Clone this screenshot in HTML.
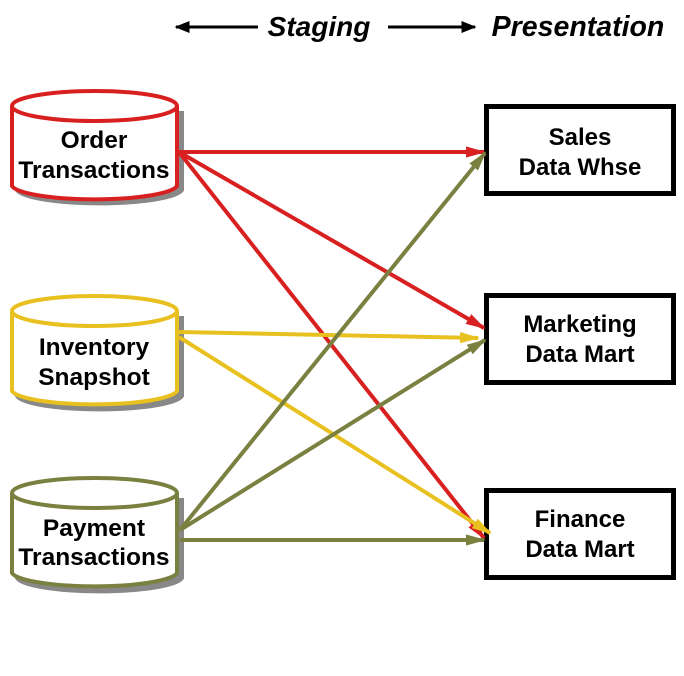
<!DOCTYPE html>
<html><head><style>body{margin:0;background:#fff}</style></head><body>
<svg width="684" height="671" xmlns="http://www.w3.org/2000/svg" font-family="Liberation Sans, sans-serif" font-weight="bold">
<defs>
<marker id="r" markerWidth="5" markerHeight="2.8" refX="4.5" refY="1.4" orient="auto" markerUnits="strokeWidth"><path d="M0,0L5,1.4L0,2.8z" fill="#d92020"/></marker>
<marker id="y" markerWidth="5" markerHeight="2.8" refX="4.5" refY="1.4" orient="auto" markerUnits="strokeWidth"><path d="M0,0L5,1.4L0,2.8z" fill="#e8c020"/></marker>
<marker id="g" markerWidth="5" markerHeight="2.8" refX="4.5" refY="1.4" orient="auto" markerUnits="strokeWidth"><path d="M0,0L5,1.4L0,2.8z" fill="#7a8040"/></marker>
<marker id="k" markerWidth="5" markerHeight="4" refX="4.5" refY="2" orient="auto" markerUnits="strokeWidth"><path d="M0,0L5,2L0,4z" fill="#000"/></marker>
</defs>
<line x1="258" y1="27" x2="176" y2="27" stroke="#000" stroke-width="3" marker-end="url(#k)"/>
<line x1="388" y1="27" x2="475" y2="27" stroke="#000" stroke-width="3" marker-end="url(#k)"/>
<text x="319" y="36" font-size="28" font-style="italic" text-anchor="middle">Staging</text>
<text x="578" y="36" font-size="28.5" font-style="italic" text-anchor="middle">Presentation</text>

<g>
<path d="M17,111 V190 A83,15 0 0 0 182,190 V111" fill="#888" stroke="#888" stroke-width="4"/>
<path d="M12,106 V186 A83,15 0 0 0 177,186 V106" fill="#fff" stroke="#d92020" stroke-width="4"/>
<ellipse cx="94.5" cy="106" rx="82.5" ry="15" fill="#fff" stroke="#d92020" stroke-width="4"/>
<text x="94" y="148" font-size="24.5" text-anchor="middle">Order</text>
<text x="94" y="178" font-size="24.5" text-anchor="middle">Transactions</text>
</g>
<g>
<path d="M17,316 V396 A83,15 0 0 0 182,396 V316" fill="#888" stroke="#888" stroke-width="4"/>
<path d="M12,311 V391 A83,15 0 0 0 177,391 V311" fill="#fff" stroke="#e8c020" stroke-width="4"/>
<ellipse cx="94.5" cy="311" rx="82.5" ry="15" fill="#fff" stroke="#e8c020" stroke-width="4"/>
<text x="94" y="355" font-size="24.5" text-anchor="middle">Inventory</text>
<text x="94" y="385" font-size="24.5" text-anchor="middle">Snapshot</text>
</g>
<g>
<path d="M17,498 V578 A83,15 0 0 0 182,578 V498" fill="#888" stroke="#888" stroke-width="4"/>
<path d="M12,493 V573 A83,15 0 0 0 177,573 V493" fill="#fff" stroke="#7a8040" stroke-width="4"/>
<ellipse cx="94.5" cy="493" rx="82.5" ry="15" fill="#fff" stroke="#7a8040" stroke-width="4"/>
<text x="94" y="536" font-size="24.5" text-anchor="middle">Payment</text>
<text x="94" y="565" font-size="24.5" text-anchor="middle">Transactions</text>
</g>

<rect x="486.5" y="106.5" width="187" height="87" fill="#fff" stroke="#000" stroke-width="5"/>
<text x="580" y="145" font-size="24" text-anchor="middle">Sales</text>
<text x="580" y="175" font-size="24" text-anchor="middle">Data Whse</text>
<rect x="486.5" y="295.5" width="187" height="87" fill="#fff" stroke="#000" stroke-width="5"/>
<text x="580" y="332" font-size="24" text-anchor="middle">Marketing</text>
<text x="580" y="362" font-size="24" text-anchor="middle">Data Mart</text>
<rect x="486.5" y="490.5" width="187" height="87" fill="#fff" stroke="#000" stroke-width="5"/>
<text x="580" y="527" font-size="24" text-anchor="middle">Finance</text>
<text x="580" y="557" font-size="24" text-anchor="middle">Data Mart</text>

<g stroke-width="4" fill="none">
<line x1="179" y1="152" x2="484" y2="152" stroke="#d92020" marker-end="url(#r)"/>
<line x1="179" y1="152" x2="484" y2="328" stroke="#d92020" marker-end="url(#r)"/>
<line x1="179" y1="152" x2="484" y2="538" stroke="#d92020" marker-end="url(#r)"/>
<line x1="179" y1="332" x2="478" y2="338" stroke="#e8c020" marker-end="url(#y)"/>
<line x1="179" y1="337" x2="490" y2="533" stroke="#e8c020" marker-end="url(#y)"/>
<line x1="180" y1="530" x2="485" y2="153" stroke="#7a8040" marker-end="url(#g)"/>
<line x1="180" y1="530" x2="485" y2="340" stroke="#7a8040" marker-end="url(#g)"/>
<line x1="180" y1="540" x2="484" y2="540" stroke="#7a8040" marker-end="url(#g)"/>
</g>
</svg>
</body></html>
